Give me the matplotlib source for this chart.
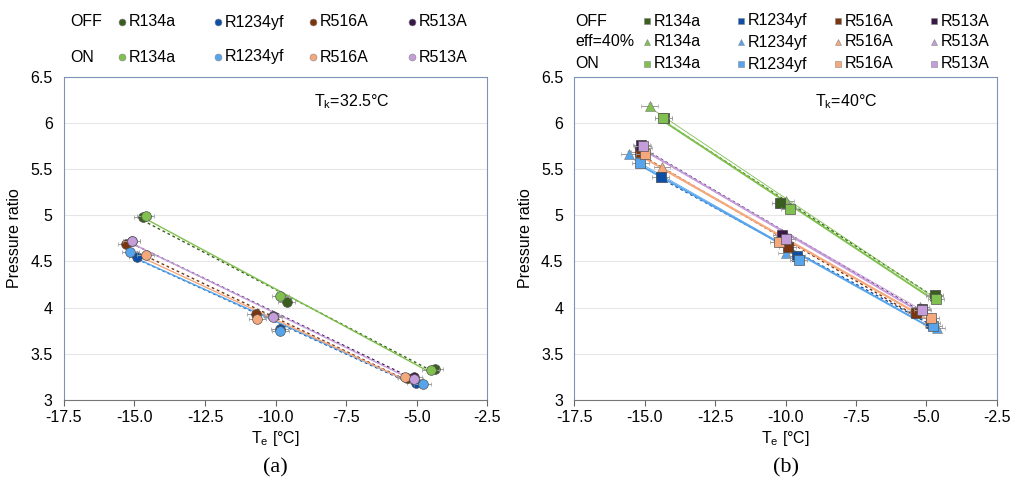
import numpy as np
import matplotlib.pyplot as plt

plt.rcParams['font.family'] = ['Liberation Sans', 'DejaVu Sans']

refs = ['R134a', 'R1234yf', 'R516A', 'R513A']
c_off = ['#3a5e1f', '#0d4ea6', '#7a3510', '#3a1848']
c_on = ['#7fc04e', '#56a5ec', '#f5a87c', '#c59ddb']
c_eff = ['#7fc04e', '#56a5ec', '#f5a87c', '#c59ddb']

# (a) Tk = 32.5 C : evaporating temperature and pressure ratio
a_te_off = [[-14.7, -9.6, -4.35], [-14.9, -9.85, -5.03],
            [-15.28, -10.7, -5.35], [-15.1, -10.1, -5.11]]
a_pr_off = [[4.98, 4.06, 3.33], [4.55, 3.77, 3.18],
            [4.69, 3.93, 3.24], [4.72, 3.91, 3.25]]
a_te_on = [[-14.6, -9.83, -4.5], [-15.15, -9.83, -4.79],
           [-14.6, -10.64, -5.41], [-15.1, -10.08, -5.08]]
a_pr_on = [[4.99, 4.12, 3.32], [4.60, 3.75, 3.17],
           [4.57, 3.88, 3.25], [4.72, 3.90, 3.23]]

# (b) Tk = 40 C
b_te_off = [[-14.33, -10.2, -4.7], [-14.43, -9.6, -4.82],
            [-15.18, -9.93, -5.36], [-15.12, -10.13, -5.17]]
b_pr_off = [[6.06, 5.13, 4.14], [5.42, 4.56, 3.83],
            [5.69, 4.66, 3.94], [5.76, 4.79, 3.98]]
b_te_eff = [[-14.83, -10.0, -4.7], [-15.55, -9.98, -4.64],
            [-14.39, -10.1, -5.4], [-15.05, -10.05, -5.21]]
b_pr_eff = [[6.19, 5.15, 4.12], [5.67, 4.59, 3.78],
            [5.52, 4.72, 3.96], [5.73, 4.77, 4.01]]
b_te_on = [[-14.35, -9.86, -4.66], [-15.16, -9.53, -4.76],
           [-15.0, -10.24, -4.84], [-15.08, -9.98, -5.14]]
b_pr_on = [[6.05, 5.07, 4.09], [5.57, 4.52, 3.80],
           [5.66, 4.71, 3.89], [5.75, 4.74, 3.97]]

xerr = 0.3
yerr = 0.03
FS = 11.5

fig = plt.figure(figsize=(10.13, 4.84), dpi=100)
ax1 = fig.add_axes([0.063, 0.174, 0.418, 0.667])
ax2 = fig.add_axes([0.567, 0.174, 0.417, 0.667])


def trend(ax, x, y, color, ls, lw):
    k, b = np.polyfit(x, y, 1)
    xs = np.array([min(x), max(x)])
    ax.plot(xs, k * xs + b, color=color, ls=ls, lw=lw, zorder=2)


def setup(ax, label):
    ax.set_xlim(-17.5, -2.5)
    ax.set_ylim(3, 6.5)
    ax.set_xticks(np.arange(-17.5, -2.4, 2.5))
    ax.set_xticklabels(['%.1f' % v for v in np.arange(-17.5, -2.4, 2.5)])
    ax.set_yticks(np.arange(3, 6.6, 0.5))
    ax.set_yticklabels(['3', '3.5', '4', '4.5', '5', '5.5', '6', '6.5'])
    ax.tick_params(axis='y', length=0, labelsize=FS, pad=8)
    ax.tick_params(axis='x', length=4, direction='out', color='#666666',
                   labelsize=FS)
    ax.grid(axis='y', color='#e6e6e6', lw=0.8)
    ax.set_axisbelow(True)
    for s in ['left', 'top', 'right']:
        ax.spines[s].set_color('#7e93b3')
    ax.spines['bottom'].set_color('#777777')
    ax.set_xlabel('T$_\\mathregular{e}$ [°C]', fontsize=FS, labelpad=3)
    ax.set_ylabel('Pressure ratio', fontsize=FS, labelpad=6)
    ax.text(0.5, -0.21, label, transform=ax.transAxes, ha='center',
            va='center', fontsize=16, family='Liberation Serif')


# left panel
for i in range(4):
    trend(ax1, a_te_off[i], a_pr_off[i], c_off[i], (0, (2, 2)), 1.0)
    trend(ax1, a_te_on[i], a_pr_on[i], c_on[i], '-', 1.0)
for i in range(4):
    ax1.errorbar(a_te_off[i], a_pr_off[i], xerr=xerr, yerr=yerr, fmt='o',
                 ms=7, mfc=c_off[i], mec='#555555', mew=0.5,
                 ecolor='#999999', elinewidth=0.7, capsize=1.5, zorder=3)
for i in range(4):
    ax1.errorbar(a_te_on[i], a_pr_on[i], xerr=xerr, yerr=yerr, fmt='o',
                 ms=7, mfc=c_on[i], mec='#555555', mew=0.5,
                 ecolor='#999999', elinewidth=0.7, capsize=1.5, zorder=4)
ax1.text(0.59, 0.91, 'T$_\\mathregular{k}$=32.5°C', transform=ax1.transAxes,
         fontsize=FS)
setup(ax1, '(a)')

# right panel
for i in range(4):
    trend(ax2, b_te_off[i], b_pr_off[i], c_off[i], (0, (2, 2)), 1.0)
    trend(ax2, b_te_on[i], b_pr_on[i], c_on[i], '-', 1.4)
    trend(ax2, b_te_eff[i], b_pr_eff[i], c_eff[i], '-', 0.6)
for i in range(4):
    ax2.errorbar(b_te_eff[i], b_pr_eff[i], xerr=xerr, yerr=yerr, fmt='^',
                 ms=6.5, mfc=c_eff[i], mec='#777777', mew=0.4,
                 ecolor='#999999', elinewidth=0.7, capsize=1.5, zorder=3)
for i in range(4):
    ax2.errorbar(b_te_off[i], b_pr_off[i], xerr=xerr, yerr=yerr, fmt='s',
                 ms=7, mfc=c_off[i], mec='#444444', mew=0.5,
                 ecolor='#999999', elinewidth=0.7, capsize=1.5, zorder=4)
for i in range(4):
    ax2.errorbar(b_te_on[i], b_pr_on[i], xerr=xerr, yerr=yerr, fmt='s',
                 ms=7, mfc=c_on[i], mec='#555555', mew=0.5,
                 ecolor='#999999', elinewidth=0.7, capsize=1.5, zorder=5)
ax2.text(0.57, 0.91, 'T$_\\mathregular{k}$=40°C', transform=ax2.transAxes,
         fontsize=FS)
setup(ax2, '(b)')

# legends drawn as figure text
W, H = 1013.0, 484.0


def legend_row(x0, y, title, xs, colors, marker, ms):
    fig.text(x0 / W, 1 - y / H, title, fontsize=FS, va='center')
    for x, c, r in zip(xs, colors, refs):
        fig.lines.append(plt.Line2D([x / W], [1 - y / H], marker=marker,
                                    ms=ms, mfc=c, mec='#888888', mew=0.4,
                                    ls='none', transform=fig.transFigure))
        fig.text((x + 7) / W, 1 - y / H, r, fontsize=FS, va='center')


legend_row(70, 22, 'OFF', [122, 218, 313, 412], c_off, 'o', 5)
legend_row(70, 57, 'ON', [122, 218, 313, 412], c_on, 'o', 5)
legend_row(575, 21, 'OFF', [647, 741, 838, 934], c_off, 's', 5)
legend_row(575, 42, 'eff=40%', [647, 741, 838, 934], c_eff, '^', 5)
legend_row(575, 64, 'ON', [647, 741, 838, 934], c_on, 's', 5)

fig.savefig('out.png', dpi=100)
